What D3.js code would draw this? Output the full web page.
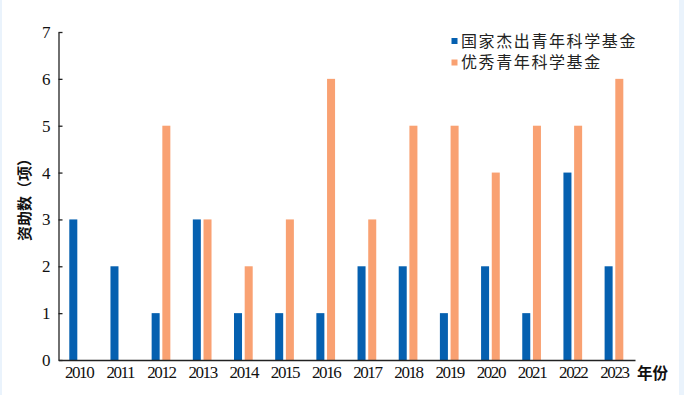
<!DOCTYPE html>
<html>
<head>
<meta charset="utf-8">
<script src="https://cdn.jsdelivr.net/npm/d3@7"></script>
<style>
  html, body { margin: 0; padding: 0; background: #fff; }
  svg { display: block; }
</style>
</head>
<body>
<div id="chart"></div>
<script>
// 数据
const years = ['2010', '2011', '2012', '2013', '2014', '2015', '2016', '2017', '2018', '2019', '2020', '2021', '2022', '2023'];
const seriesNames = ['国家杰出青年科学基金', '优秀青年科学基金'];
const jieqing = [3, 2, 1, 3, 1, 1, 1, 2, 2, 1, 2, 1, 4, 2];
const youqing = [0, 0, 5, 3, 2, 3, 6, 3, 5, 5, 4, 5, 5, 6];
const yTicks = [0, 1, 2, 3, 4, 5, 6, 7];
const colors = ['#0560b0', '#f9a172'];

const width = 684, height = 395;
const margin = {left: 58.5, right: 49, top: 32, bottom: 35};

let svg = d3.select('#chart').append('svg')
    .attr('width', width)
    .attr('height', height);

// 背景边框
svg.append('rect').attr('width', width).attr('height', height).attr('fill', '#eaf3fc');
svg.append('rect').attr('x', 2).attr('y', 0).attr('width', width - 7).attr('height', height).attr('fill', '#fff');

let x0 = d3.scaleBand()
    .domain(years)
    .range([margin.left, width - margin.right]);

let x1 = d3.scaleBand()
    .domain(seriesNames)
    .range([-9.8, 8.9])
    .paddingInner(0.25);

let y = d3.scaleLinear()
    .domain([0, 7])
    .range([height - margin.bottom, margin.top]);

let rows = years.map((yr, i) => ({year: yr, values: [jieqing[i], youqing[i]]}));

// 柱子
let g = svg.append('g');
rows.forEach(r => {
    let cx = x0(r.year) + x0.bandwidth() / 2;
    r.values.forEach((v, k) => {
        if (!v) return;
        g.append('rect')
            .attr('x', cx + x1(seriesNames[k]))
            .attr('y', y(v))
            .attr('width', x1.bandwidth())
            .attr('height', y(0) - y(v))
            .attr('fill', colors[k]);
    });
});

// y轴
let yAxis = svg.append('g')
    .attr('transform', `translate(${margin.left},0)`)
    .call(d3.axisRight(y).tickValues(yTicks).tickSize(4).tickSizeOuter(0).tickFormat(d3.format('d')));
yAxis.select('.domain').attr('stroke', '#222').attr('stroke-width', 1.3);
yAxis.selectAll('.tick line').attr('stroke', '#222').attr('stroke-width', 1.3);
yAxis.selectAll('.tick text')
    .attr('x', -8)
    .attr('text-anchor', 'end')
    .attr('font-family', '"Liberation Serif", serif')
    .attr('font-size', 17)
    .attr('fill', '#111');

// x轴
let xAxis = svg.append('g')
    .attr('transform', `translate(0,${y(0)})`)
    .call(d3.axisBottom(x0).tickSize(0).tickSizeOuter(0));
xAxis.select('.domain').attr('stroke', '#222').attr('stroke-width', 1.3);
xAxis.selectAll('.tick text')
    .attr('y', 6)
    .attr('font-family', '"Liberation Serif", serif')
    .attr('font-size', 17)
    .attr('letter-spacing', -1.4)
    .attr('fill', '#111');

// 轴标题
svg.append('text')
    .attr('transform', `translate(30,196) rotate(-90)`)
    .attr('text-anchor', 'middle')
    .attr('font-family', '"Noto Sans CJK SC", sans-serif')
    .attr('font-size', 15)
    .attr('font-weight', 'bold')
    .attr('fill', '#111')
    .text('资助数（项）');

svg.append('text')
    .attr('x', 637)
    .attr('y', 379)
    .attr('font-family', '"Noto Sans CJK SC", sans-serif')
    .attr('font-size', 15.5)
    .attr('font-weight', 'bold')
    .attr('fill', '#111')
    .text('年份');

// 图例
let legend = svg.append('g');
seriesNames.forEach((name, k) => {
    let ly = 41 + k * 21.5;
    legend.append('rect')
        .attr('x', 451.5).attr('y', ly - 3).attr('width', 6).attr('height', 6)
        .attr('fill', colors[k]);
    legend.append('text')
        .attr('x', 461).attr('y', ly)
        .attr('dy', '0.35em')
        .attr('font-family', '"Noto Sans CJK SC", sans-serif')
        .attr('font-size', 16)
        .attr('letter-spacing', 1.6)
        .attr('fill', '#222')
        .text(name);
});
</script>
</body>
</html>
